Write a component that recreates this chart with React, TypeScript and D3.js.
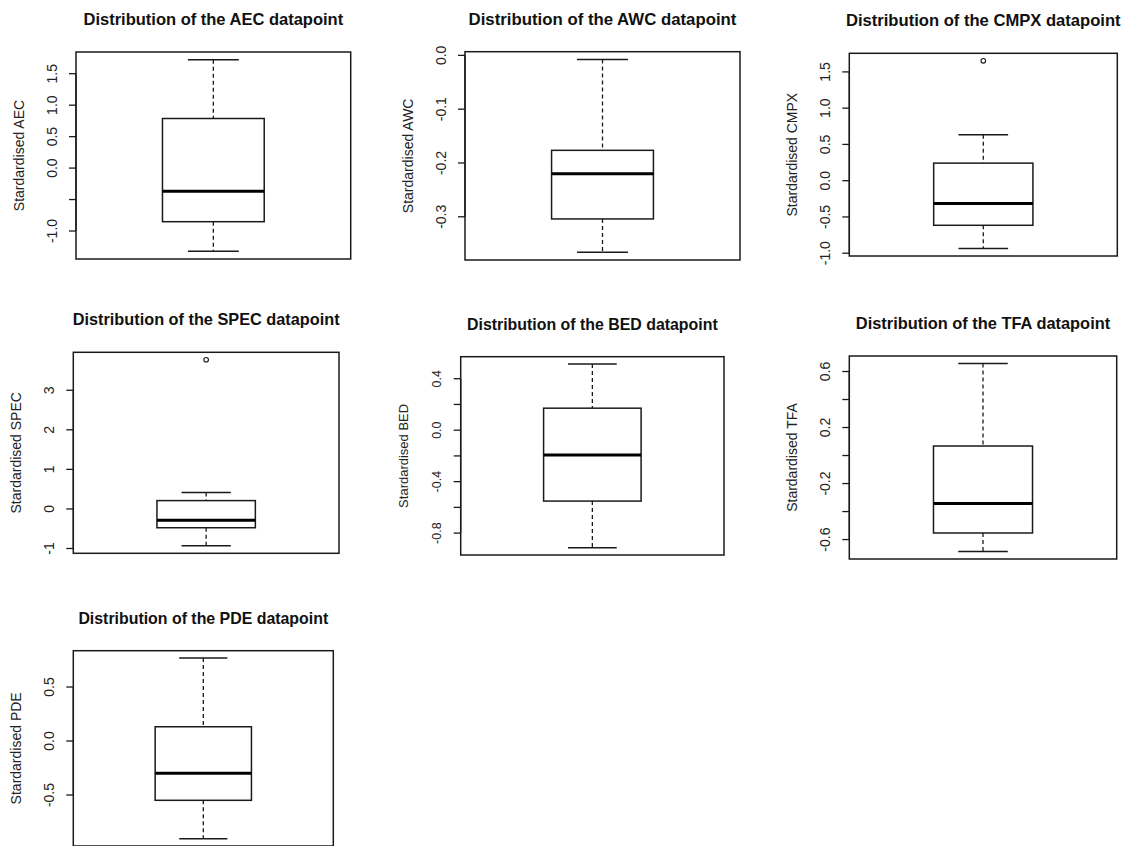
import React from 'react';
import * as d3 from 'd3';

// five-number summaries (standardised values)
const categories = ['AEC', 'AWC', 'CMPX', 'SPEC', 'BED', 'TFA', 'PDE'];
const lowerWhisker = [-1.323, -0.366, -0.935, -0.933, -0.913, -0.685, -0.905];
const lowerQuartile = [-0.852, -0.304, -0.615, -0.475, -0.551, -0.553, -0.549];
const medians = [-0.368, -0.22, -0.314, -0.287, -0.193, -0.342, -0.298];
const upperQuartile = [0.788, -0.1765, 0.242, 0.211, 0.171, 0.068, 0.132];
const upperWhisker = [1.723, -0.0075, 0.635, 0.414, 0.514, 0.657, 0.769];
const outliers: number[][] = [[], [], [1.653], [3.771], [], [], []];

const tickValues: number[][] = [
  [-1.0, -0.5, 0.0, 0.5, 1.0, 1.5],
  [-0.3, -0.2, -0.1, 0.0],
  [-1.0, -0.5, 0.0, 0.5, 1.0, 1.5],
  [-1, 0, 1, 2, 3],
  [-0.8, -0.6, -0.4, -0.2, 0.0, 0.2, 0.4],
  [-0.6, -0.4, -0.2, 0.0, 0.2, 0.4, 0.6],
  [-0.5, 0.0, 0.5],
];
const tickLabels: string[][] = [
  ['-1.0', '', '0.0', '0.5', '1.0', '1.5'],
  ['-0.3', '-0.2', '-0.1', '0.0'],
  ['-1.0', '-0.5', '0.0', '0.5', '1.0', '1.5'],
  ['-1', '0', '1', '2', '3'],
  ['-0.8', '', '-0.4', '', '0.0', '', '0.4'],
  ['-0.6', '', '-0.2', '', '0.2', '', '0.6'],
  ['-0.5', '0.0', '0.5'],
];

// plot regions of the separate panels [left, right, top, bottom]
const panels = [
  [76, 350.7, 52, 259],
  [465, 740, 51.7, 260],
  [849.3, 1117.3, 53.3, 256],
  [73.3, 339, 352.3, 553.3],
  [460.7, 724, 356.7, 555],
  [849.3, 1116.7, 356, 559],
  [73.3, 333.3, 650.7, 846],
];
const titleSizes = [16.5, 16.8, 16.6, 16.3, 15.9, 16.4, 15.9];

const FONT = '"Liberation Sans", Arial, sans-serif';
const INK = '#1a1a1a';

function BoxPanel({ i }: { i: number }) {
  const [left, right, top, bottom] = panels[i];
  const lo = d3.min([lowerWhisker[i], ...outliers[i]]) as number;
  const hi = d3.max([upperWhisker[i], ...outliers[i]]) as number;
  const pad = (hi - lo) * 0.04;
  const y = d3.scaleLinear().domain([lo - pad, hi + pad]).range([bottom, top]);
  const x = d3.scaleLinear().domain([0.46, 1.54]).range([left, right]);
  const cx = x(1);
  const bx0 = x(0.8);
  const bx1 = x(1.2);
  const cap0 = x(0.9);
  const cap1 = x(1.1);
  const ticks = tickValues[i];
  const labelX = left - 24;
  const small = i === 4;

  return (
    <g>
      <text
        x={(left + right) / 2}
        y={top - 27}
        textAnchor="middle"
        fontFamily={FONT}
        fontWeight="bold"
        fontSize={titleSizes[i]}
        fill="#111"
      >
        {`Distribution of the ${categories[i]} datapoint`}
      </text>
      <text
        transform={`translate(${left - 57},${(top + Math.min(bottom, 846)) / 2}) rotate(-90)`}
        textAnchor="middle"
        dominantBaseline="central"
        fontFamily={FONT}
        fontSize={small ? 13 : 14}
        fill="#222"
      >
        {`Stardardised ${categories[i]}`}
      </text>
      <line x1={left} x2={left} y1={y(ticks[0])} y2={y(ticks[ticks.length - 1])} stroke={INK} strokeWidth={1.3} />
      {ticks.map((t, k) => (
        <g key={k}>
          <line x1={left - 7} x2={left} y1={y(t)} y2={y(t)} stroke={INK} strokeWidth={1.3} />
          {tickLabels[i][k] && (
            <text
              transform={`translate(${labelX},${y(t)}) rotate(-90)`}
              textAnchor="middle"
              dominantBaseline="central"
              fontFamily={FONT}
              fontSize={small ? 12.5 : 14}
              fill="#222"
            >
              {tickLabels[i][k]}
            </text>
          )}
        </g>
      ))}
      <rect x={left} y={top} width={right - left} height={bottom - top} fill="none" stroke={INK} strokeWidth={1.5} />
      {/* whiskers */}
      <line x1={cx} x2={cx} y1={y(upperWhisker[i])} y2={y(upperQuartile[i])} stroke={INK} strokeWidth={1.3} strokeDasharray="4,3" />
      <line x1={cx} x2={cx} y1={y(lowerQuartile[i])} y2={y(lowerWhisker[i])} stroke={INK} strokeWidth={1.3} strokeDasharray="4,3" />
      <line x1={cap0} x2={cap1} y1={y(upperWhisker[i])} y2={y(upperWhisker[i])} stroke={INK} strokeWidth={1.5} />
      <line x1={cap0} x2={cap1} y1={y(lowerWhisker[i])} y2={y(lowerWhisker[i])} stroke={INK} strokeWidth={1.5} />
      <rect
        x={bx0}
        y={y(upperQuartile[i])}
        width={bx1 - bx0}
        height={y(lowerQuartile[i]) - y(upperQuartile[i])}
        fill="white"
        stroke={INK}
        strokeWidth={1.5}
      />
      <line x1={bx0} x2={bx1} y1={y(medians[i])} y2={y(medians[i])} stroke="#000" strokeWidth={3} />
      {outliers[i].map((o, k) => (
        <circle key={k} cx={cx} cy={y(o)} r={2.3} fill="none" stroke={INK} strokeWidth={1.1} />
      ))}
    </g>
  );
}

export default function App() {
  return (
    <svg
      width={1127}
      height={846}
      style={{ position: 'absolute', left: 0, top: 0, background: 'white' }}
    >
      <rect width={1127} height={846} fill="white" />
      {categories.map((c, i) => (
        <BoxPanel key={c} i={i} />
      ))}
    </svg>
  );
}
